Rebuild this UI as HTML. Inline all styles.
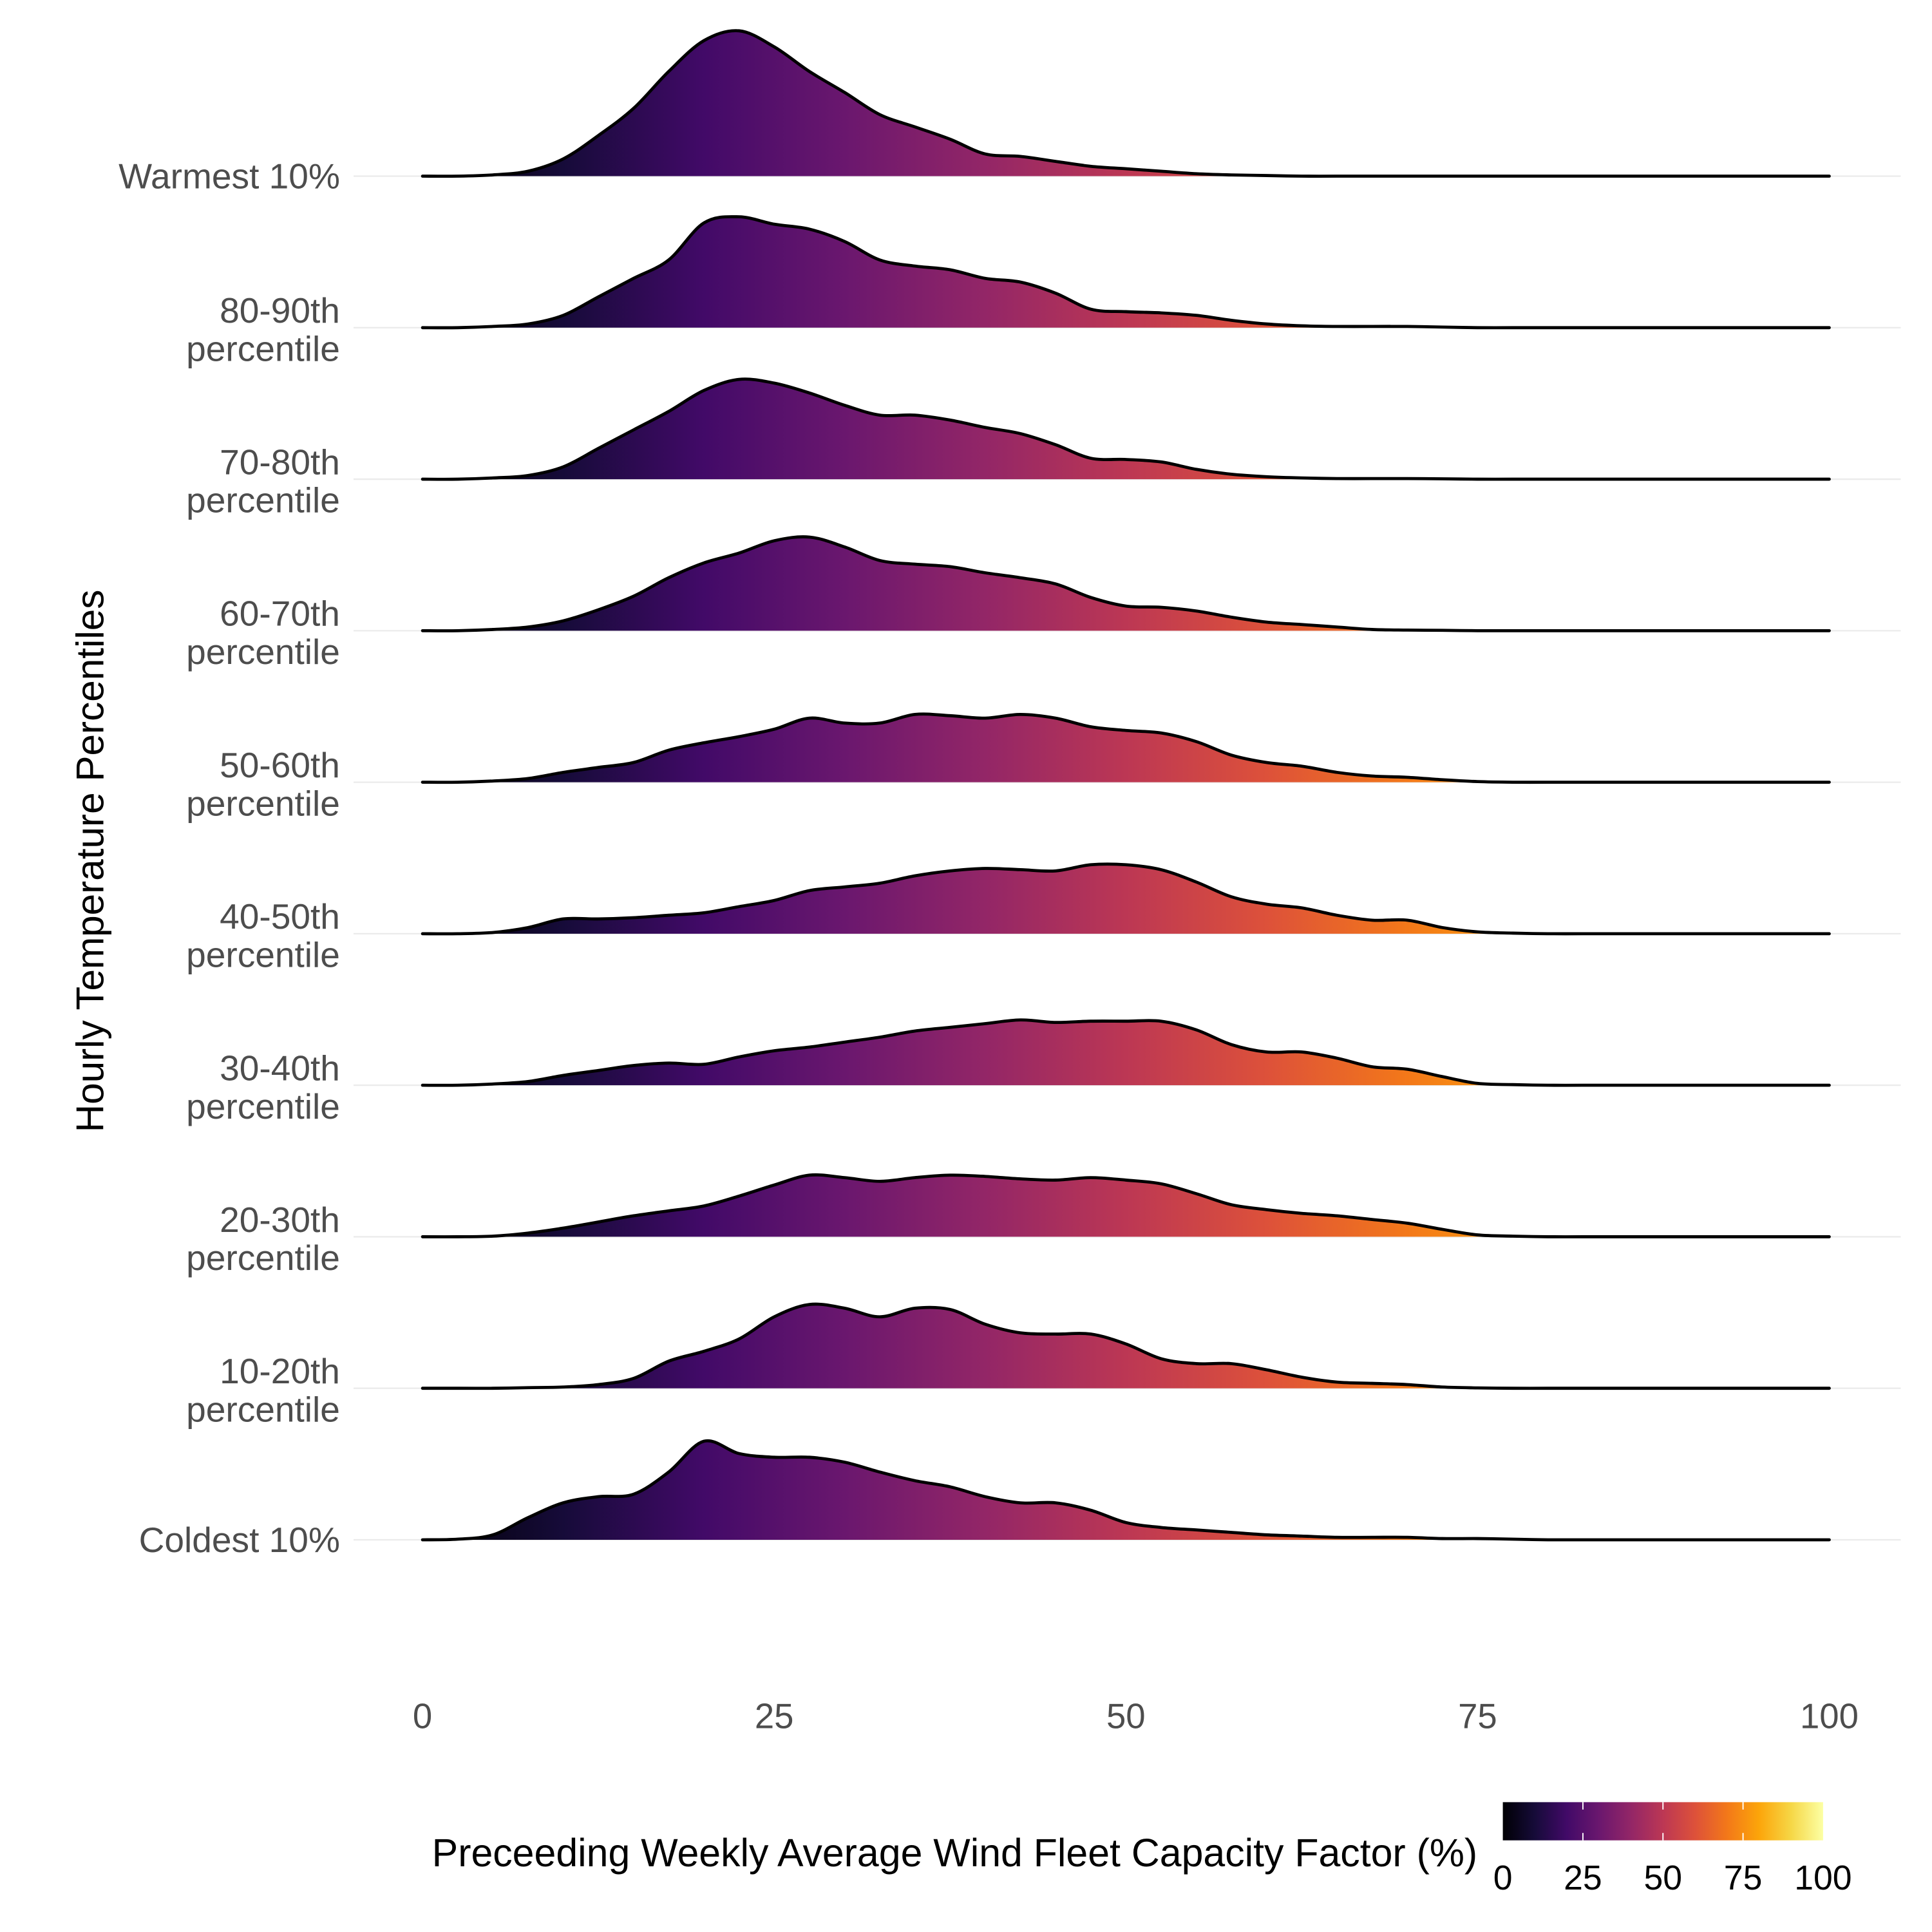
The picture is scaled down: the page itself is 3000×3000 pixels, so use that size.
<!DOCTYPE html>
<html><head><meta charset="utf-8"><style>
html,body{margin:0;padding:0;background:#fff;}
svg{display:block;}
text{font-family:"Liberation Sans",Arial,sans-serif;}
</style></head><body>
<svg id="chart" width="3000" height="3000" viewBox="0 0 1568.4 1568.4" xmlns="http://www.w3.org/2000/svg">
<defs>
<linearGradient id="inferno" gradientUnits="userSpaceOnUse" x1="343" y1="0" x2="1485" y2="0">
<stop offset="0" stop-color="#000004"/><stop offset="0.1" stop-color="#160b39"/><stop offset="0.2" stop-color="#420a68"/><stop offset="0.3" stop-color="#6a176e"/><stop offset="0.4" stop-color="#932667"/><stop offset="0.5" stop-color="#bc3754"/><stop offset="0.6" stop-color="#dd513a"/><stop offset="0.7" stop-color="#f37819"/><stop offset="0.8" stop-color="#fca50a"/><stop offset="0.9" stop-color="#f6d746"/><stop offset="1" stop-color="#fcffa4"/>
</linearGradient>
<linearGradient id="inferno-legend" x1="0" y1="0" x2="1" y2="0">
<stop offset="0" stop-color="#000004"/><stop offset="0.1" stop-color="#160b39"/><stop offset="0.2" stop-color="#420a68"/><stop offset="0.3" stop-color="#6a176e"/><stop offset="0.4" stop-color="#932667"/><stop offset="0.5" stop-color="#bc3754"/><stop offset="0.6" stop-color="#dd513a"/><stop offset="0.7" stop-color="#f37819"/><stop offset="0.8" stop-color="#fca50a"/><stop offset="0.9" stop-color="#f6d746"/><stop offset="1" stop-color="#fcffa4"/>
</linearGradient>
</defs>
<g id="grid"></g>
<g id="ridges"></g>
<g id="ylabels"></g>
<g id="xticks"></g>
<text x="0" y="0" transform="translate(84,699) rotate(-90)" text-anchor="middle" font-size="31.5" fill="#000">Hourly Temperature Percentiles</text>
<text x="775" y="1515" text-anchor="middle" font-size="31.8" fill="#000">Preceeding Weekly Average Wind Fleet Capacity Factor (%)</text>
<g>
<rect x="1220" y="1463" width="260" height="31" fill="url(#inferno-legend)"/>
<g id="legendticks"></g>
</g>
</svg>
<script>
const categories = ["Coldest 10%","10-20th\npercentile","20-30th\npercentile","30-40th\npercentile","40-50th\npercentile","50-60th\npercentile","60-70th\npercentile","70-80th\npercentile","80-90th\npercentile","Warmest 10%"];
const gridX = [0,2.5,5,7.5,10,12.5,15,17.5,20,22.5,25,27.5,30,32.5,35,37.5,40,42.5,45,47.5,50,52.5,55,57.5,60,62.5,65,67.5,70,72.5,75,77.5,80,82.5,85,87.5,90,92.5,95,97.5,100];
const densColdest = [0,0.5,4,18,30,35,37,55,80,70,67,67,63,55,48,43,35,30,30,24,14,10,8,6,4,3,2,2,2,1,1,0.5,0,0,0,0,0,0,0,0,0];
const dens10_20 = [0,0,0,0.5,1,3,8,22,30,40,58,68,65,58,65,64,52,45,44,44,36,24,20,20,15,9,5,4,3,1,0.3,0,0,0,0,0,0,0,0,0,0];
const dens20_30 = [0,0,0.5,3,7,12,17,21,25,33,42,50,48,45,48,50,49,47,46,48,46,43,35,26,22,19,17,14,11,6,1.5,0.5,0,0,0,0,0,0,0,0,0];
const dens30_40 = [0,0,1,3,8,12,16,18,17,23,28,31,35,39,44,47,50,53,51,52,52,52,45,33,27,27,22,15,13,7,1.5,0.5,0,0,0,0,0,0,0,0,0];
const dens40_50 = [0,0,1,5,12,12,13,15,17,22,27,35,38,41,47,51,53,52,51,56,56,52,42,30,24,21,15,11,11,5,1.5,0.5,0,0,0,0,0,0,0,0,0];
const dens50_60 = [0,0,1,3,8,12,16,26,32,37,43,52,48,48,55,54,52,55,52,45,42,40,33,22,16,13,8,5,4,2,0.5,0,0,0,0,0,0,0,0,0,0];
const dens60_70 = [0,0,1,3,8,17,28,43,55,63,73,76,68,57,54,52,47,43,38,27,20,19,16,11,7,5,3,1,0.5,0.3,0,0,0,0,0,0,0,0,0,0,0];
const dens70_80 = [0,0,1,3,10,25,40,55,72,81,78,70,60,52,52,48,42,37,28,17,16,14,8,4,2,1,0.5,0.5,0.5,0.3,0,0,0,0,0,0,0,0,0,0,0];
const dens80_90 = [0,0,1,3,10,25,40,55,85,90,84,80,70,55,50,47,40,37,28,15,13,12,10,6,3,1.5,1,1,1,0.5,0,0,0,0,0,0,0,0,0,0,0];
const densWarmest = [0,0,1,4,14,33,55,85,110,118,105,85,68,50,40,30,18,16,12,8,6,4,2,1,0.5,0,0,0,0,0,0,0,0,0,0,0,0,0,0,0,0];
const seriesList = [densColdest,dens10_20,dens20_30,dens30_40,dens40_50,dens50_60,dens60_70,dens70_80,dens80_90,densWarmest];
const xTicks = [0,25,50,75,100];
const legendTicks = [0,25,50,75,100];

const NS = "http://www.w3.org/2000/svg";
const xScale = v => 343 + (v/100)*(1485-343);
const baseY = i => 1250 - i*(1250-143)/9;
const hScale = d => d*1.0;

function mk(tag, attrs, parent){const e=document.createElementNS(NS,tag);for(const k in attrs)e.setAttribute(k,attrs[k]);parent.appendChild(e);return e;}
function smoothPath(pts){
  let d = "M"+pts[0][0]+","+pts[0][1];
  for(let i=0;i<pts.length-1;i++){
    const p0=pts[Math.max(0,i-1)],p1=pts[i],p2=pts[i+1],p3=pts[Math.min(pts.length-1,i+2)];
    const c1x=p1[0]+(p2[0]-p0[0])/6,c1y=p1[1]+(p2[1]-p0[1])/6;
    const c2x=p2[0]-(p3[0]-p1[0])/6,c2y=p2[1]-(p3[1]-p1[1])/6;
    d+=" C"+c1x.toFixed(2)+","+c1y.toFixed(2)+" "+c2x.toFixed(2)+","+c2y.toFixed(2)+" "+p2[0].toFixed(2)+","+p2[1].toFixed(2);
  }
  return d;
}
const grid=document.getElementById('grid'), ridges=document.getElementById('ridges'), ylabels=document.getElementById('ylabels');
categories.forEach((c,i)=>{
  const gl=mk('line',{x1:287,x2:1543,y1:baseY(i),y2:baseY(i),stroke:'#ebebeb','stroke-width':1.2},grid);
  
  
});
for(let i=categories.length-1;i>=0;i--){
  const by=baseY(i);
  const pts=gridX.map((v,j)=>[xScale(v),by-hScale(seriesList[i][j])]);
  const line=smoothPath(pts);
  const area=mk('path',{d:line+" L"+xScale(100)+","+by+" L"+xScale(0)+","+by+" Z",fill:'url(#inferno)',stroke:'none'},ridges);
  
  
  const ln=mk('path',{d:line,fill:'none',stroke:'#000','stroke-width':2.5,'stroke-linejoin':'round','stroke-linecap':'round'},ridges);
  
  
}
categories.forEach((c,i)=>{
  const by=baseY(i);
  const lines=c.split("\n");
  const t=mk('text',{x:276,'text-anchor':'end','font-size':28.8,fill:'#4d4d4d'},ylabels);
  
  
  const startY = lines.length===1 ? by+10 : by-4;
  lines.forEach((l,k)=>{const ts=mk('tspan',{x:276,y:startY+k*31},t);ts.textContent=l;});
});
const xt=document.getElementById('xticks');
xTicks.forEach(v=>{
  const t=mk('text',{x:xScale(v),y:1403,'text-anchor':'middle','font-size':28.5,fill:'#4d4d4d'},xt);
  
  
  t.textContent=v;
});
const lt=document.getElementById('legendticks');
legendTicks.forEach(v=>{
  const x=1220+v/100*260;
  if(v>0&&v<100){
    const a=mk('line',{x1:x,x2:x,y1:1463,y2:1469,stroke:'#fff','stroke-width':1},lt);
    
    
    const b=mk('line',{x1:x,x2:x,y1:1488,y2:1494,stroke:'#fff','stroke-width':1},lt);
    
    
  }
  const t=mk('text',{x:x,y:1534,'text-anchor':'middle','font-size':28,fill:'#000'},lt);
  
  
  t.textContent=v;
});
</script>
</body></html>
